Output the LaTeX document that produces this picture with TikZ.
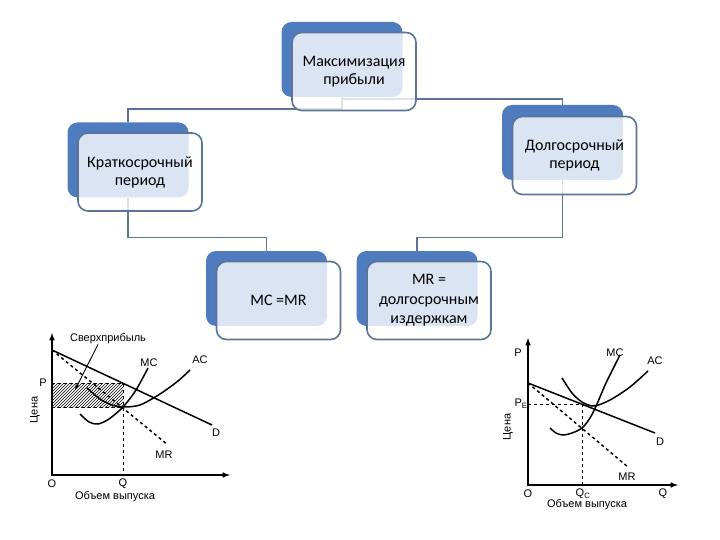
\documentclass[tikz,border=0pt]{standalone}
\usepackage{fontspec}
\setmainfont{Carlito}
\newfontfamily\plotfont{Liberation Sans}
\usepackage{tikz}
\usepackage{xcolor}
\usetikzlibrary{arrows.meta,patterns}
\definecolor{boxblue}{HTML}{4F7CBE}
\definecolor{edgeblue}{HTML}{5B7497}
\tikzset{
  backbox/.style={fill=boxblue, rounded corners=10pt, minimum width=121pt, minimum height=75pt, inner sep=0pt},
  frontbox/.style={draw=edgeblue, line width=1.6pt, fill=white, fill opacity=0.8, text opacity=1,
    rounded corners=10pt, minimum width=124pt, minimum height=78pt, inner sep=0pt,
    align=center, font=\fontsize{16}{18}\selectfont},
  link/.style={draw=edgeblue, line width=1.4pt},
  curve/.style={line width=1.5pt},
  lbl/.style={font=\plotfont\fontsize{11}{12}\selectfont, inner sep=0pt}
}

\begin{document}
\begin{tikzpicture}[x=1pt,y=-1pt]
                \useasboundingbox (0,0) rectangle (720,540);
                % hierarchy
                \node[backbox] (top) at (342,59.5) {};
                \node[backbox] (short) at (128,160) {};
                \node[backbox] (long) at (562.5,142.5) {};
                \node[backbox] (mcmr) at (266.5,288.5) {};
                \node[backbox] (mrlac) at (417,288.5) {};
                \draw[link] (top.south) -- ++(0,12) -| (short.north);
                \draw[link] (top.south) -- ++(0,2) -| (long.north);
                \draw[link] (short.south) -- ++(0,40) -| (mcmr.north);
                \draw[link] (long.south) -- ++(0,57) -| (mrlac.north);
                \node[frontbox] (top-f) at ([shift={(12,12)}]top.center) {Максимизация\\прибыли};
                \node[frontbox] (short-f) at ([shift={(12,12)}]short.center) {Краткосрочный\\период};
                \node[frontbox] (long-f) at ([shift={(12,13)}]long.center) {Долгосрочный\\период};
                \node[frontbox] (mcmr-f) at ([shift={(12,12)}]mcmr.center) {MC =MR};
                \node[frontbox, font=\fontsize{16}{19.5}\selectfont] (mrlac-f) at ([shift={(12,12)}]mrlac.center) {MR =\\долгосрочным\\издержкам};
                % short run graph
                \fill[pattern=north east lines] (52,383) rectangle (123,407);
                \draw[dashed, line width=0.8pt] (52,383) -- (123,383) -- (123,475);
                \draw[dashed, line width=0.8pt] (52,407) -- (123,407);
                \draw[curve,-latex] (52,476) -- (52,333);
                \draw[curve,-latex] (52,475) -- (230,475);
                \draw[curve] (52,350) -- (212,425);
                \draw[curve, dashed] (52,350) -- (168,445);
                \draw[curve] plot[smooth] coordinates {(87,388) (100,399) (112,405) (123,407) (140,405) (160,394) (178,381) (190,370)};
                \draw[curve] plot[smooth] coordinates {(80,414) (89,422) (98,424) (109,419) (123,407) (136,390) (148,368)};
                \node[lbl] (sp) at (108,339) {Сверхприбыль};
                \coordinate (sp-tip) at (75,390);
                \draw[line width=0.9pt,-latex] ([xshift=-10pt]sp.south) -- (sp-tip);
                \node[lbl] (mc1) at (149,363) {MC};
                \node[lbl] (ac1) at (200,360) {AC};
                \node[lbl] (p1) at (43,383) {P};
                \node[lbl] (d1) at (216,433) {D};
                \node[lbl] (mr1) at (164,455) {MR};
                \node[lbl] (o1) at (52,484) {O};
                \node[lbl] (q1) at (123,484) {Q};
                \node[lbl] (vol1) at (115,497) {Объем выпуска};
                \node[lbl, rotate=90] (price1) at (35,410) {Цена};
                % long run graph
                \draw[dashed, line width=0.8pt] (528,404) -- (582,404) -- (582,485);
                \draw[curve,-latex] (528,486) -- (528,338);
                \draw[curve,-latex] (528,485) -- (678,485);
                \draw[curve] (528,383) -- (655,433);
                \draw[curve, dashed] (528,383) -- (628,467);
                \draw[curve] plot[smooth] coordinates {(562,378) (572,393) (582,402) (594,406) (610,400) (630,387) (648,371)};
                \draw[curve] plot[smooth] coordinates {(550,428) (556,433) (563,435) (572,433) (582,428) (590,418) (597,404) (606,383) (620,355)};
                \node[lbl] (p2) at (518,353) {P};
                \node[lbl] (mc2) at (615,353) {MC};
                \node[lbl] (ac2) at (655,361) {AC};
                \node[lbl] (pe2) at (521,404) {P\textsubscript{E}};
                \node[lbl] (d2) at (660,442) {D};
                \node[lbl] (mr2) at (627,477) {MR};
                \node[lbl] (o2) at (528,494) {O};
                \node[lbl] (qc2) at (583,494) {Q\textsubscript{C}};
                \node[lbl] (q2) at (663,494) {Q};
                \node[lbl] (vol2) at (587,505) {Объем выпуска};
                \node[lbl, rotate=90] (price2) at (508,427) {Цена};
            \end{tikzpicture}
\end{document}
